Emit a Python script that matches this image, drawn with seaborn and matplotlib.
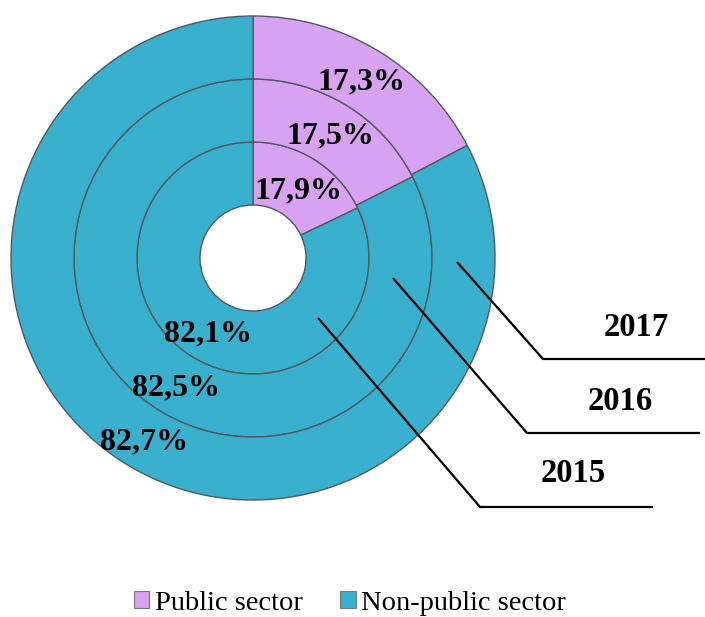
import matplotlib
matplotlib.use("Agg")
import matplotlib.pyplot as plt
import seaborn as sns
import numpy as np
from matplotlib.patches import Patch

# ---- data ----
years = ["2015", "2016", "2017"]
public = [17.9, 17.5, 17.3]
nonpublic = [82.1, 82.5, 82.7]
series_names = ["Public sector", "Non-public sector"]

sns.set_theme(style="white")
plt.rcParams["font.family"] = ["Liberation Serif", "DejaVu Serif"]

colors = ["#D8A2F2", "#39B1CE"]
edge = "#4f5a60"

W, H = 705, 617
fig = plt.figure(figsize=(W / 100, H / 100), dpi=100)
ax = fig.add_axes([0, 0, 1, 1])

cx, cy = 253, H - 258
hole = 53
ring_w = 63

fmt = lambda v: f"{v:.1f}".replace(".", ",") + "%"

for i, (yr, p, n) in enumerate(zip(years, public, nonpublic)):
    r_out = hole + ring_w * (i + 1)
    r_mid = r_out - ring_w / 2
    vals = [p, n]
    wedges, _ = ax.pie(vals, radius=r_out, center=(cx, cy), startangle=90,
                       counterclock=False, colors=colors,
                       wedgeprops=dict(width=ring_w, edgecolor=edge, linewidth=1.0),
                       frame=True)
    for w, v in zip(wedges, vals):
        ang = np.deg2rad((w.theta1 + w.theta2) / 2)
        tx = cx + r_mid * np.cos(ang)
        ty = cy + r_mid * np.sin(ang) - 4
        ax.text(tx, ty, fmt(v), ha="center", va="center", fontsize=23,
                fontweight="bold", color="black")

# leader lines & year labels
leaders = {
    "2017": dict(start=(457, 262), elbow=(543, 359), end=(705, 359), label=(636, 327)),
    "2016": dict(start=(393, 278), elbow=(527, 433), end=(700, 433), label=(620, 402)),
    "2015": dict(start=(318, 318), elbow=(480, 507), end=(653, 507), label=(573, 473)),
}
for yr in years:
    d = leaders[yr]
    xs = [d["start"][0], d["elbow"][0], d["end"][0]]
    ys = [H - d["start"][1], H - d["elbow"][1], H - d["end"][1]]
    ax.plot(xs, ys, color="black", lw=1.6, solid_capstyle="butt")
    ax.text(d["label"][0], H - d["label"][1], yr, ha="center", va="center",
            fontsize=23.5, fontweight="bold", color="black")

ax.set_xlim(0, W)
ax.set_ylim(0, H)
ax.set_aspect("equal")
ax.axis("off")

handles = [Patch(facecolor=c, edgecolor="#777777", linewidth=0.8) for c in colors]
leg = fig.legend(handles, series_names, loc="center", bbox_to_anchor=(350 / W, 1 - 603 / H),
                 ncol=2, frameon=False, fontsize=20.5, handlelength=0.55, handleheight=0.55,
                 handletextpad=0.2, columnspacing=1.3, borderpad=0)
for t in leg.get_texts():
    t.set_color("black")

fig.savefig("out.png", dpi=100, facecolor="white")
